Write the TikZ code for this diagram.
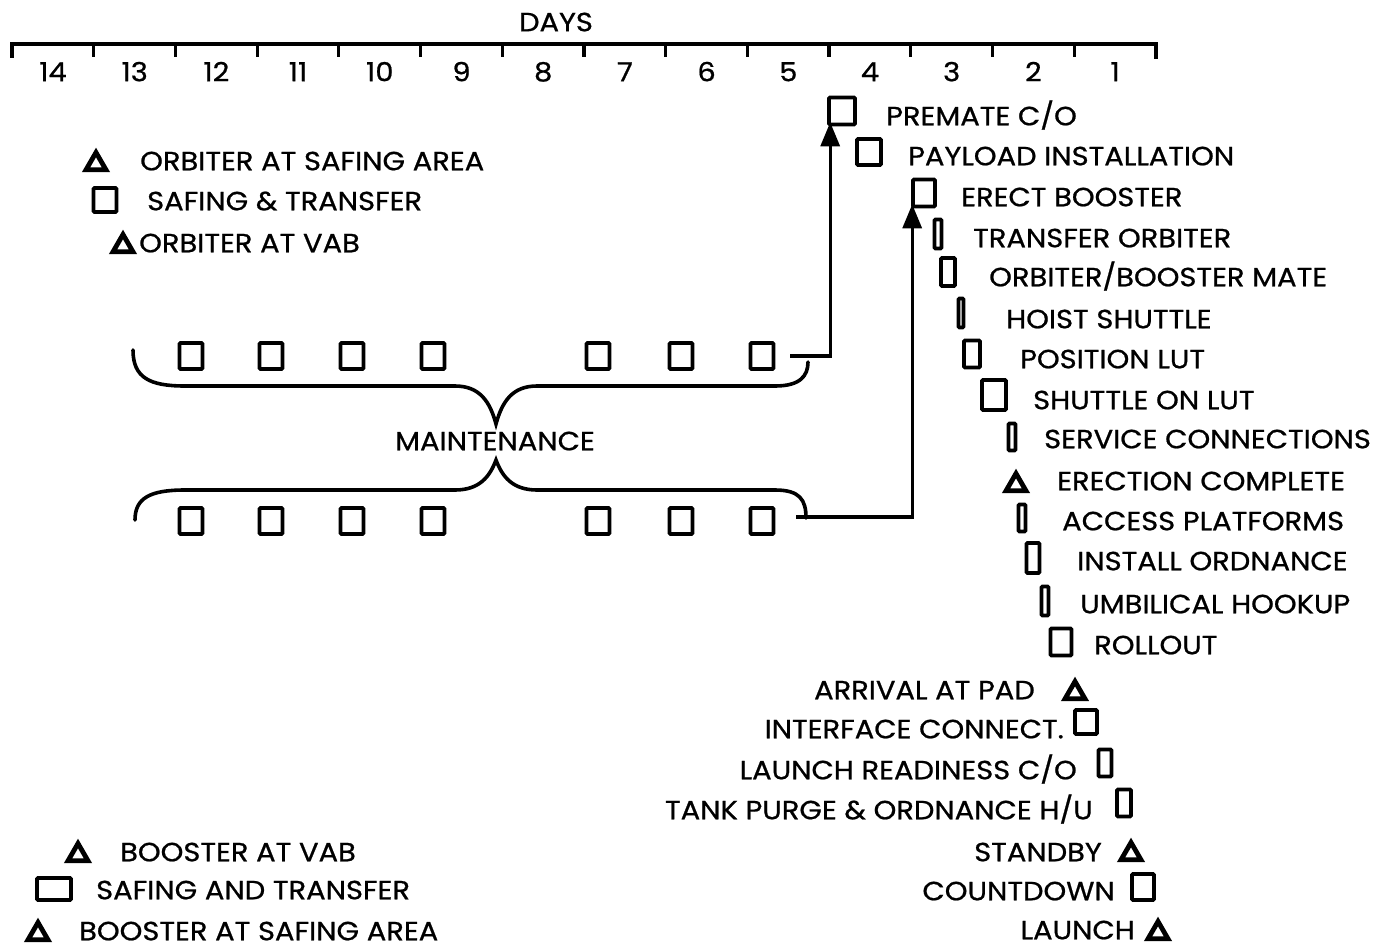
\documentclass[tikz,border=0pt]{standalone}
\usepackage{fontspec}
\setmainfont{Poppins}[FakeStretch=1.1,FakeBold=0.8]
\usetikzlibrary{shapes.geometric,arrows.meta}
\begin{document}
\begin{tikzpicture}[x=1pt,y=-1pt,
  lbl/.style={inner sep=0pt, text height=18.5pt, text depth=0pt, font=\fontsize{26.3}{26}\selectfont},
  lw/.style={lbl, anchor=west},
  le/.style={lbl, anchor=east},
  bx/.style={draw, line width=3.6pt, inner sep=0pt, rounded corners=1pt},
  mb/.style={bx, minimum width=23pt, minimum height=26pt},
  tri/.style={draw, regular polygon, regular polygon sides=3, line width=4.8pt, line join=miter, inner sep=0pt, minimum size=23pt},
  arr/.style={line width=3.2pt, -{Triangle[length=24pt,width=19pt]}},
  brace/.style={line width=3.6pt, line cap=round},
  axis/.style={line width=3.2pt},
]
\useasboundingbox (0,0) rectangle (1375,947);

% ---- axis ----
\node[lbl] (days) at (556,22) {DAYS};
\draw[axis] (12,58) -- (12,44) -- (1156,44) -- (1156,59);
\foreach \k in {1,...,13} {
  \draw[axis] ({12+81.7*\k},44) -- ({12+81.7*\k},57);
}
\foreach \n [count=\i from 0] in {14,13,12,11,10,9,8,7,6,5,4,3,2,1} {
  \node[lbl] (d\n) at ({53+81.7*\i},72) {\n};
}

% ---- top-left legend ----
\node[tri] (ot1) at (96,164) {};
\node[lw] (ot1l) at (140,161) {ORBITER AT SAFING AREA};
\node[bx, minimum width=23pt, minimum height=24pt] (os) at (105,200) {};
\node[lw] (osl) at (147,201) {SAFING \& TRANSFER};
\node[tri] (ot2) at (123,246) {};
\node[lw] (ot2l) at (139,243) {ORBITER AT VAB};

% ---- maintenance ----
\foreach \x [count=\i] in {191,271,352,433,598,681,762} {
  \node[mb] (t\i) at (\x,356) {};
  \node[mb] (b\i) at (\x,521) {};
}
\node[lbl] (maint) at (495,441) {MAINTENANCE};
\draw[brace] (133,350) .. controls (133,378) and (150,386) .. (185,386)
  -- (455,386) .. controls (480,386) and (490,402) .. (496,424)
  .. controls (502,402) and (512,386) .. (537,386)
  -- (775,386) .. controls (800,386) and (808,376) .. (808,362);
\draw[brace] (135,520) .. controls (135,498) and (150,490) .. (185,490)
  -- (455,490) .. controls (480,490) and (490,476) .. (496,460)
  .. controls (502,476) and (512,490) .. (537,490)
  -- (775,490) .. controls (800,490) and (806,500) .. (806,518);

% ---- right column ----
\node[bx, minimum width=26pt, minimum height=27pt] (pm) at (842,111) {};
\node[lw] (pml) at (886,116) {PREMATE C/O};
\node[bx, minimum width=24pt, minimum height=26pt] (pl) at (869,152) {};
\node[lw] (pll) at (908,156) {PAYLOAD INSTALLATION};
\node[bx, minimum width=22pt, minimum height=27pt] (eb) at (924,193) {};
\node[lw] (ebl) at (961,197) {ERECT BOOSTER};
\node[bx, minimum width=7pt, minimum height=29pt] (to) at (938,234) {};
\node[lw] (tol) at (973,238) {TRANSFER ORBITER};
\node[bx, minimum width=14pt, minimum height=28pt] (obm) at (948,272) {};
\node[lw] (obml) at (989,277) {ORBITER/BOOSTER MATE};
\node[bx, minimum width=5pt, minimum height=29pt] (hs) at (961,313) {};
\node[lw] (hsl) at (1006,319) {HOIST SHUTTLE};
\node[bx, minimum width=16pt, minimum height=27pt] (pos) at (972,354) {};
\node[lw] (posl) at (1020,359) {POSITION LUT};
\node[bx, minimum width=24pt, minimum height=30pt] (sol) at (994,395) {};
\node[lw] (soll) at (1033,400) {SHUTTLE ON LUT};
\node[bx, minimum width=7pt, minimum height=27pt] (sc) at (1012,437) {};
\node[lw] (scl) at (1044,439) {SERVICE CONNECTIONS};
\node[tri] (ec) at (1016,485) {};
\node[lw] (ecl) at (1057,481) {ERECTION COMPLETE};
\node[bx, minimum width=7pt, minimum height=27pt] (ap) at (1022,518) {};
\node[lw] (apl) at (1062,521) {ACCESS PLATFORMS};
\node[bx, minimum width=13pt, minimum height=30pt] (io) at (1033,558) {};
\node[lw] (iol) at (1077,561) {INSTALL ORDNANCE};
\node[bx, minimum width=7pt, minimum height=29pt] (uh) at (1045,601) {};
\node[lw] (uhl) at (1080,604) {UMBILICAL HOOKUP};
\node[bx, minimum width=21pt, minimum height=27pt] (ro) at (1061,642) {};
\node[lw] (rol) at (1094,645) {ROLLOUT};

% ---- bottom right ----
\node[tri] (ap2) at (1075,693) {};
\node[le] (ap2l) at (1035,690) {ARRIVAL AT PAD};
\node[bx, minimum width=22pt, minimum height=24pt] (ic) at (1086,722) {};
\node[le] (icl) at (1064,729) {INTERFACE CONNECT.};
\node[bx, minimum width=13pt, minimum height=27pt] (lr) at (1105,763) {};
\node[le] (lrl) at (1077,770) {LAUNCH READINESS C/O};
\node[bx, minimum width=14pt, minimum height=27pt] (tp) at (1124,803) {};
\node[le] (tpl) at (1093,810) {TANK PURGE \& ORDNANCE H/U};
\node[tri] (sb) at (1131,854) {};
\node[le] (sbl) at (1102,852) {STANDBY};
\node[bx, minimum width=22pt, minimum height=26pt] (cd) at (1143,887) {};
\node[le] (cdl) at (1115,891) {COUNTDOWN};
\node[tri] (la) at (1158,933) {};
\node[le] (lal) at (1135,930) {LAUNCH};

% ---- bottom-left legend ----
\node[tri] (bt1) at (78,855) {};
\node[lw] (bt1l) at (120,852) {BOOSTER AT VAB};
\node[bx, minimum width=34pt, minimum height=22pt] (bs) at (54,889) {};
\node[lw] (bsl) at (96,890) {SAFING AND TRANSFER};
\node[tri] (bt2) at (38,934) {};
\node[lw] (bt2l) at (79,931) {BOOSTER AT SAFING AREA};

% ---- connectors ----
\coordinate (a1) at ([xshift=3pt,yshift=4pt]pm.south west);
\coordinate (a2) at ([xshift=1pt,yshift=4pt]eb.south west);
\draw[arr] ([xshift=15pt]t7.east) -| (a1);
\draw[arr] ([xshift=21pt,yshift=4pt]b7.east) -| (a2);
\end{tikzpicture}
\end{document}
